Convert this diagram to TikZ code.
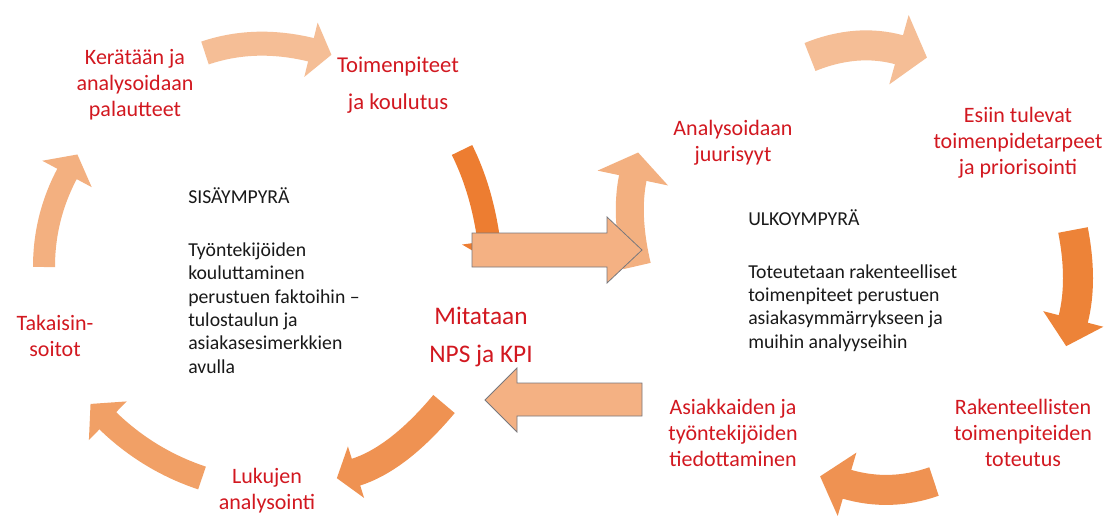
\documentclass[tikz,border=0pt]{standalone}
\usepackage{fontspec}
\setmainfont{Carlito}
\usetikzlibrary{calc}
\definecolor{lblred}{RGB}{210,24,32}
\definecolor{txtblk}{RGB}{25,25,25}
\definecolor{arPale}{RGB}{245,190,150}
\definecolor{arLight}{RGB}{243,176,128}
\definecolor{arMidA}{RGB}{241,160,102}
\definecolor{arMidB}{RGB}{239,146,82}
\definecolor{arDark}{RGB}{237,125,49}
\definecolor{arDarkB}{RGB}{237,131,56}
\definecolor{arStraight}{RGB}{244,177,131}
\definecolor{arEdge}{RGB}{120,120,125}
% #1 colour, #2 start, #3 bend point, #4 head base, #5 body width, #6 head half width, #7 head length
\newcommand\blockarc[7]{%
  \draw[line width=#5, color=#1] (#2) .. controls ($(#2)!0.6667!(#3)$) and ($(#4)!0.6667!(#3)$) .. (#4);
  \coordinate (#4b) at ($(#4)!0.8pt!(#3)$);
  \fill[#1] ($(#4b)!#6!90:(#3)$) -- ($(#4)!-#7!(#3)$) -- ($(#4b)!#6!-90:(#3)$) -- cycle;
}
\tikzset{
  redlbl/.style={text=lblred, align=center, font=\fontsize{16.5}{19.5}\selectfont, inner sep=0pt},
  bodytxt/.style={text=txtblk, align=left, font=\fontsize{14.8}{17.6}\selectfont, inner sep=0pt, anchor=west},
  flatarrow/.style={fill=arStraight, draw=arEdge, line width=0.6pt, line join=miter},
}
\begin{document}
\begin{tikzpicture}[x=0.75pt,y=-0.75pt]
\useasboundingbox (0,0) rectangle (1104,517);
\fill[white] (0,0) rectangle (1104,517);

% ---- coordinates of the curved arrows
\coordinate (as) at (205,53);   \coordinate (aq) at (255,36);   \coordinate (ae) at (312,50);
\coordinate (bs) at (810,57);   \coordinate (bq) at (857,38);   \coordinate (be) at (900,50);
\coordinate (cs) at (44,267);   \coordinate (cq) at (44,217);   \coordinate (ce) at (67.5,173);
\coordinate (ds) at (202,478);  \coordinate (dq) at (148,460);  \coordinate (de) at (107,420);
\coordinate (es) at (444,404);  \coordinate (eq) at (398,459);  \coordinate (ee) at (355,472.5);
\coordinate (fs) at (462,150);  \coordinate (fq) at (482,190);  \coordinate (fe) at (489,242);
\coordinate (hs) at (637,266);  \coordinate (hq) at (625,215);  \coordinate (he) at (633,177);
\coordinate (is) at (1073,230); \coordinate (iq) at (1083,281.5); \coordinate (ie) at (1073,320);
\coordinate (js) at (934,481.5); \coordinate (jq) at (890,497); \coordinate (je) at (846,484);

% ---- inner cycle
\blockarc{arPale}{as}{aq}{ae}{18pt}{21pt}{15pt}
\blockarc{arDark}{fs}{fq}{fe}{17pt}{20.25pt}{15pt}
\blockarc{arMidB}{es}{eq}{ee}{21pt}{20.25pt}{14.25pt}
\blockarc{arMidA}{ds}{dq}{de}{18pt}{20.25pt}{17.25pt}
\blockarc{arLight}{cs}{cq}{ce}{16.5pt}{21pt}{15.75pt}

% ---- outer cycle
\blockarc{arLight}{hs}{hq}{he}{21pt}{27pt}{18.75pt}
\blockarc{arPale}{bs}{bq}{be}{22.5pt}{27pt}{21pt}
\blockarc{arDarkB}{is}{iq}{ie}{22.5pt}{23.25pt}{20.25pt}
\blockarc{arMidB}{js}{jq}{je}{22.5pt}{24.75pt}{20.25pt}

% ---- straight arrows
\draw[flatarrow] (472,233) coordinate (rarrow) -- (607,233) -- (607,217) -- (642,250) -- (607,283) -- (607,267) -- (472,267) -- cycle;
\draw[flatarrow] (642,383) coordinate (larrow) -- (517,383) -- (517,368) -- (485,400) -- (517,432) -- (517,416) -- (642,416) -- cycle;

% ---- red labels
\node[redlbl] (kerataan) at (135,85) {Kerätään ja\\analysoidaan\\palautteet};
\node[redlbl, font=\fontsize{17}{27.75}\selectfont] (toimenpiteet) at (398,85.5) {Toimenpiteet\\ja koulutus};
\node[redlbl] (juurisyyt) at (733,143) {Analysoidaan\\juurisyyt};
\node[redlbl] (esiin) at (1018,143) {Esiin tulevat\\toimenpidetarpeet\\ja priorisointi};
\node[redlbl] (takaisin) at (55,336) {Takaisin-\\soitot};
\node[redlbl, font=\fontsize{19}{28.5}\selectfont] (mitataan) at (481,336.5) {Mitataan\\NPS ja KPI};
\node[redlbl] (lukujen) at (267,491) {Lukujen\\analysointi};
\node[redlbl] (asiakkaiden) at (733,433) {Asiakkaiden ja\\työntekijöiden\\tiedottaminen};
\node[redlbl] (rakenteellisten) at (1023,433) {Rakenteellisten\\toimenpiteiden\\toteutus};

% ---- black texts
\node[bodytxt, anchor=base west] (sisa) at (188,203) {SISÄYMPYRÄ};
\node[bodytxt] (sisabody) at (188,308) {Työntekijöiden\\kouluttaminen\\perustuen faktoihin –\\tulostaulun ja\\asiakasesimerkkien\\avulla};
\node[bodytxt, anchor=base west] (ulko) at (748,225) {ULKOYMPYRÄ};
\node[bodytxt] (ulkobody) at (748,308) {Toteutetaan rakenteelliset\\toimenpiteet perustuen\\asiakasymmärrykseen ja\\muihin analyyseihin};
\end{tikzpicture}
\end{document}
